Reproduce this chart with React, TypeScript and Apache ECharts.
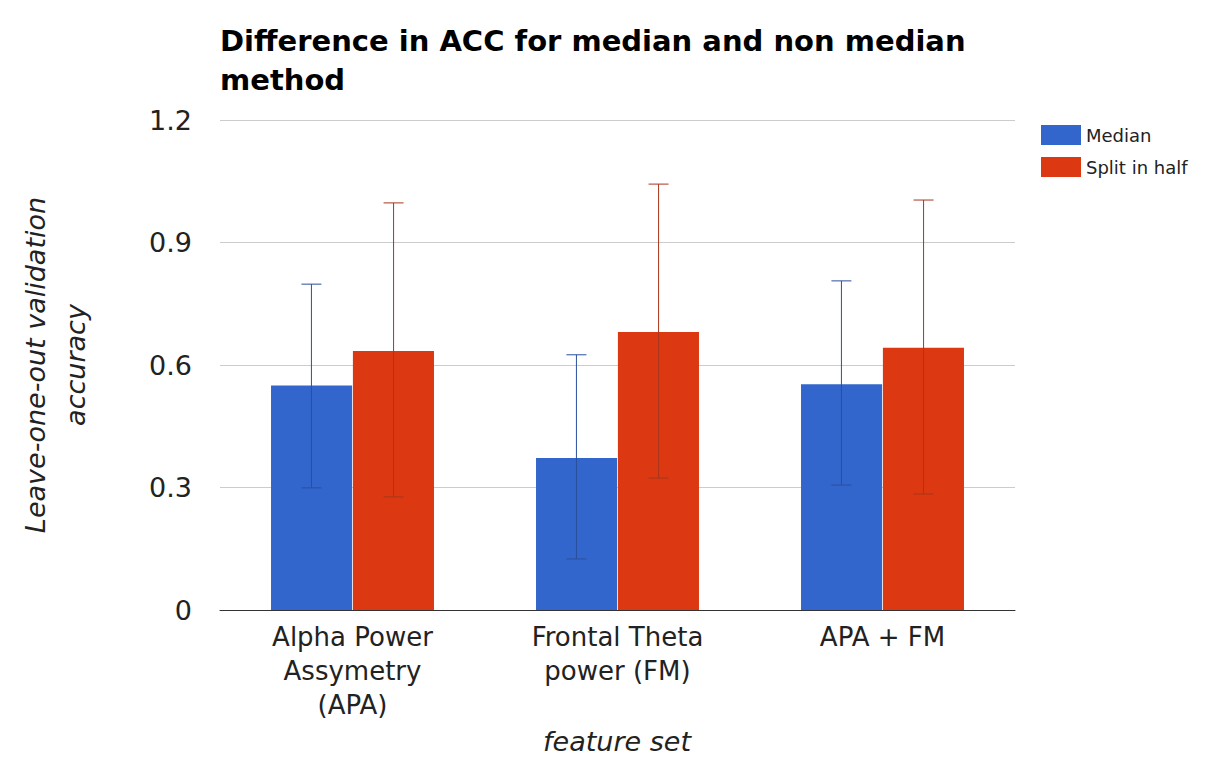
import * as echarts from "echarts";
import { useEffect, useRef } from "react";

const categories = ["Alpha Power\nAssymetry\n(APA)", "Frontal Theta\npower (FM)", "APA + FM"];
const medianValues = [0.55, 0.372, 0.553];
const splitValues = [0.634, 0.681, 0.642];
const medianErr = [
  [0.299, 0.798],
  [0.125, 0.625],
  [0.306, 0.806],
];
const splitErr = [
  [0.277, 0.997],
  [0.323, 1.043],
  [0.284, 1.004],
];

const FONT = "DejaVu Sans";

function errSeries(name: string, data: number[][], shift: number, color: string) {
  return {
    type: "custom",
    name: name + " err",
    z: 5,
    data: data.map((d, i) => [i, d[0], d[1]]),
    renderItem: (params: any, api: any) => {
      const band = api.size([1, 0])[0];
      const lo = api.coord([api.value(0), api.value(1)]);
      const hi = api.coord([api.value(0), api.value(2)]);
      const x = lo[0] + band * shift;
      const w = 10;
      const style = { stroke: color, lineWidth: 1 };
      return {
        type: "group",
        children: [
          { type: "line", shape: { x1: x, y1: lo[1], x2: x, y2: hi[1] }, style },
          { type: "line", shape: { x1: x - w, y1: lo[1], x2: x + w, y2: lo[1] }, style },
          { type: "line", shape: { x1: x - w, y1: hi[1], x2: x + w, y2: hi[1] }, style },
        ],
      };
    },
  };
}

const App = () => {
  const chartRef = useRef(null);

  useEffect(() => {
    if (!chartRef.current) return;
    const chart = echarts.init(chartRef.current, null, { renderer: "svg" });
    chart.setOption({
      animation: false,
      textStyle: { fontFamily: FONT },
      title: {
        text: "Difference in ACC for median and non median\nmethod",
        left: 207,
        top: 8,
        textStyle: { fontFamily: FONT, fontWeight: "bold", fontSize: 29, lineHeight: 39, color: "#000" },
      },
      legend: {
        orient: "vertical",
        left: 1028,
        top: 112,
        itemWidth: 40,
        itemHeight: 20,
        itemGap: 12,
        icon: "rect",
        data: ["Median", "Split in half"],
        textStyle: { fontFamily: FONT, fontSize: 18, color: "#222" },
      },
      grid: { left: 212, right: 201, top: 112, bottom: 144 },
      xAxis: {
        type: "category",
        data: categories,
        axisTick: { show: false },
        axisLine: { lineStyle: { color: "#333" } },
        axisLabel: { fontFamily: FONT, fontSize: 26, color: "#222", lineHeight: 34, margin: 10 },
      },
      yAxis: {
        type: "value",
        min: 0,
        max: 1.2,
        interval: 0.3,
        axisLabel: { fontFamily: FONT, fontSize: 27, color: "#222", margin: 28 },
        splitLine: { lineStyle: { color: "#ccc" } },
      },
      graphic: [
        {
          type: "text",
          x: 47,
          y: 357,
          rotation: Math.PI / 2,
          style: {
            text: "Leave-one-out validation\naccuracy",
            font: `italic 27px '${FONT}'`,
            fill: "#222",
            align: "center",
            verticalAlign: "middle",
            lineHeight: 40,
          },
        },
        {
          type: "text",
          x: 609,
          y: 733,
          style: {
            text: "feature set",
            font: `italic 27px '${FONT}'`,
            fill: "#222",
            align: "center",
            verticalAlign: "middle",
          },
        },
      ],
      series: [
        {
          type: "bar",
          name: "Median",
          data: medianValues,
          itemStyle: { color: "#3366cc" },
          barGap: "1%",
          barCategoryGap: "38.5%",
        },
        {
          type: "bar",
          name: "Split in half",
          data: splitValues,
          itemStyle: { color: "#dc3912" },
        },
        errSeries("Median", medianErr, -0.155, "#2a4f9c"),
        errSeries("Split in half", splitErr, 0.155, "#a8351c"),
      ],
    });
    return () => chart.dispose();
  }, []);

  return <div ref={chartRef} style={{ width: 1208, height: 746 }}></div>;
};

export default App;
